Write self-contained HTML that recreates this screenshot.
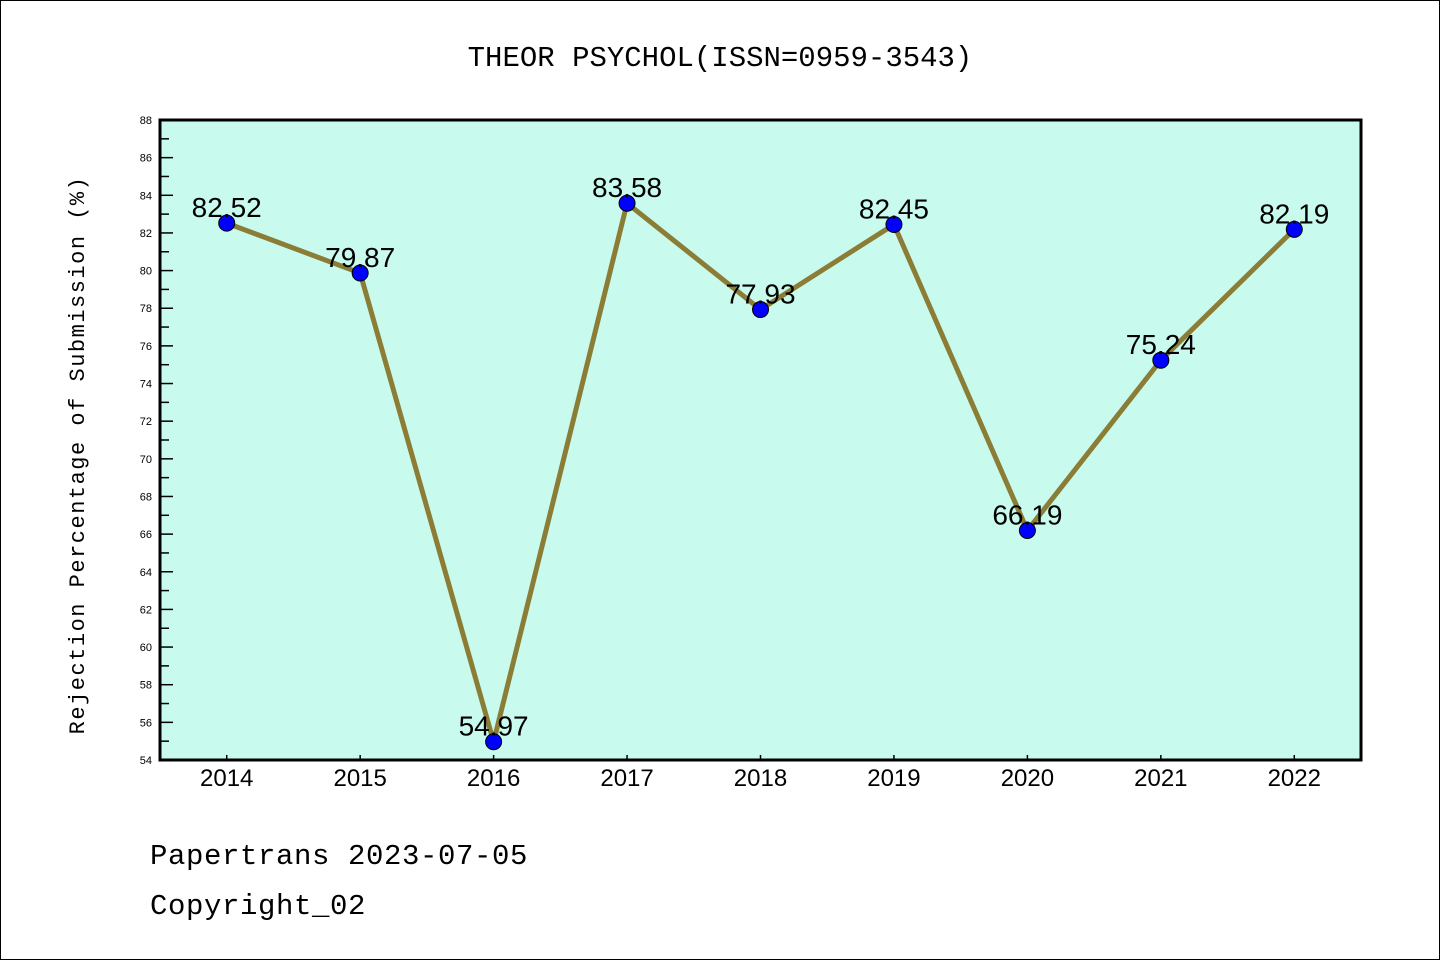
<!DOCTYPE html>
<html><head><meta charset="utf-8"><style>
html,body{margin:0;padding:0;background:#fff}
svg{display:block}
text{font-family:"Liberation Mono","DejaVu Sans Mono",monospace}
.sans{font-family:"Liberation Sans","DejaVu Sans",sans-serif}
</style></head><body>
<svg id="chart" width="1440" height="960" xmlns="http://www.w3.org/2000/svg">
<rect x="0.5" y="0.5" width="1439" height="959" fill="#fff" stroke="#000" stroke-width="1"/>
<text x="720" y="66" text-anchor="middle" font-size="29" fill="#000">THEOR PSYCHOL(ISSN=0959-3543)</text>
<rect x="160" y="120" width="1201" height="640" fill="#c8fbee"/>
<g id="yaxis"></g>
<g id="xaxis"></g>
<g id="series"></g>
<rect x="160" y="120" width="1201" height="640" fill="none" stroke="#000" stroke-width="3"/>
<text transform="translate(84,455) rotate(-90)" text-anchor="middle" font-size="22" letter-spacing="1.5" fill="#000">Rejection Percentage of Submission (%)</text>
<text x="150" y="864" font-size="29" letter-spacing="0.6" fill="#000">Papertrans 2023-07-05</text>
<text x="150" y="914" font-size="29" letter-spacing="0.6" fill="#000">Copyright_02</text>
</svg>
<script>
const years = ["2014","2015","2016","2017","2018","2019","2020","2021","2022"];
const values = [82.52,79.87,54.97,83.58,77.93,82.45,66.19,75.24,82.19];
const valueLabels = ["82.52","79.87","54.97","83.58","77.93","82.45","66.19","75.24","82.19"];
const yMin = 54, yMax = 88;

const NS = "http://www.w3.org/2000/svg";
const L=160,R=1361,T=120,B=760;
const xs = i => L + (i+0.5)*(R-L)/years.length;
const ys = v => B - (v-yMin)/(yMax-yMin)*(B-T);
function mk(tag, attrs, parent){const e=document.createElementNS(NS,tag);for(const k in attrs)e.setAttribute(k,attrs[k]);parent.appendChild(e);return e;}

const ya=document.getElementById('yaxis');
for(let v=yMin; v<=yMax; v++){
  const y=ys(v);
  const major=(v%2===0);
  const t=mk('line',{x1:L,x2:L+(major?13:9),y1:y,y2:y,stroke:'#000','stroke-width':1.5},ya);
  
  
  if(major){
    const lb=mk('text',{x:152,y:y+4,'text-anchor':'end','font-size':11,fill:'#000',class:'sans'},ya);
    lb.textContent=v;
    
    
  }
}
const xa=document.getElementById('xaxis');
years.forEach((yr,i)=>{
  const x=xs(i);
  const t=mk('line',{x1:x,x2:x,y1:B,y2:B-5,stroke:'#000','stroke-width':1.5},xa);
  
  
  const lb=mk('text',{x:x,y:786,'text-anchor':'middle','font-size':24,fill:'#000',class:'sans'},xa);
  lb.textContent=yr;
  
  
});
const sg=document.getElementById('series');
const pl=mk('polyline',{points:values.map((v,i)=>xs(i)+','+ys(v)).join(' '),fill:'none',stroke:'#8b7d35','stroke-width':5,'stroke-linejoin':'round'},sg);


values.forEach((v,i)=>{
  const c=mk('circle',{cx:xs(i),cy:ys(v),r:8,fill:'#0000ff',stroke:'#000','stroke-width':1},sg);
  
  
});
values.forEach((v,i)=>{
  const t=mk('text',{x:xs(i),y:ys(v)-6,'text-anchor':'middle','font-size':28,fill:'#000',class:'sans'},sg);
  t.textContent=valueLabels[i];
  
  
});
</script>
</body></html>
